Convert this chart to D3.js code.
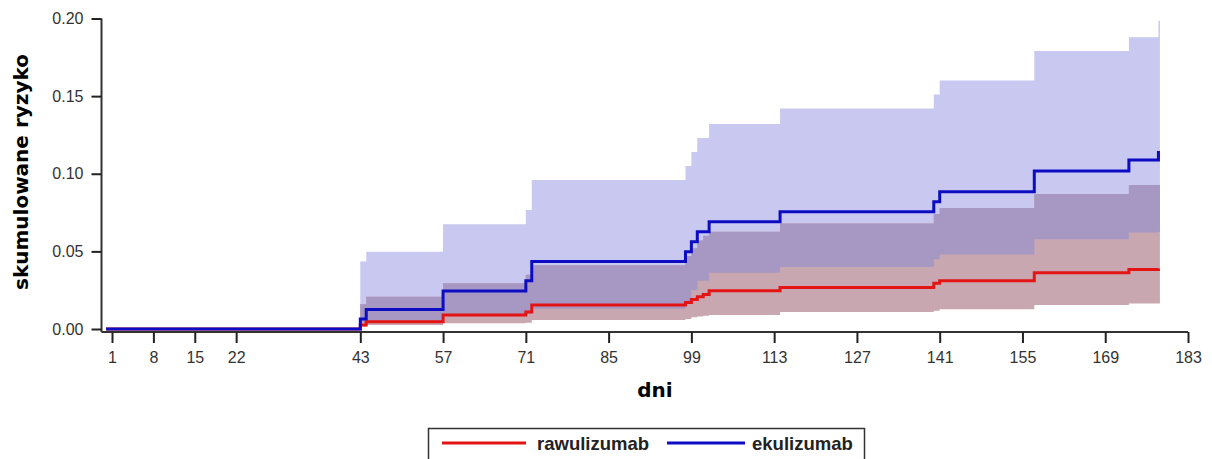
<!DOCTYPE html>
<html>
<head>
<meta charset="utf-8">
<script src="https://cdn.jsdelivr.net/npm/d3@7"></script>
<style>
  html, body { margin: 0; padding: 0; background: #fff; }
  svg { display: block; }
</style>
</head>
<body>
<svg id="chart" width="1212" height="459"></svg>
<script>
// ---- data ----
const days    = [0, 43, 44, 57, 71, 72, 98, 99, 100, 101, 102, 114, 140, 141, 157, 173, 178];
const ekul    = [0, 0.0064, 0.0125, 0.0245, 0.031, 0.0434, 0.0498, 0.0562, 0.0627, 0.0627, 0.0691, 0.0756, 0.082, 0.0884, 0.1018, 0.1089, 0.1147];
const ekulLo  = [0, 0.004, 0.005, 0.009, 0.010, 0.013, 0.018, 0.025, 0.031, 0.031, 0.0363, 0.040, 0.045, 0.048, 0.0578, 0.0622, 0.0627];
const ekulHi  = [0, 0.0434, 0.0498, 0.0674, 0.0766, 0.096, 0.105, 0.114, 0.123, 0.123, 0.132, 0.142, 0.151, 0.160, 0.179, 0.188, 0.1986];
const rawu    = [0, 0.0026, 0.0047, 0.009, 0.011, 0.0155, 0.017, 0.019, 0.0208, 0.0223, 0.0247, 0.0268, 0.0294, 0.031, 0.0363, 0.0384, 0.039];
const rawuLo  = [0, 0.0015, 0.0026, 0.0037, 0.004, 0.0058, 0.0065, 0.0075, 0.008, 0.0085, 0.009, 0.011, 0.0118, 0.0127, 0.0155, 0.0165, 0.0165];
const rawuHi  = [0, 0.016, 0.0208, 0.0294, 0.035, 0.041, 0.047, 0.052, 0.057, 0.060, 0.0627, 0.068, 0.074, 0.078, 0.087, 0.0928, 0.0928];
const followUpEnd = 178.25;
const xTicks = [1, 8, 15, 22, 43, 57, 71, 85, 99, 113, 127, 141, 155, 169, 183];
const yTicks = [0, 0.05, 0.10, 0.15, 0.20];
const seriesNames = ["rawulizumab", "ekulizumab"];
const seriesColors = ["#e41414", "#0c0cc4"];
const xTitle = "dni";
const yTitle = "skumulowane ryzyko";

// ---- layout ----
const svg = d3.select("#chart");
const x = d3.scaleLinear().domain([1, 183]).range([112, 1188]);
const y = d3.scaleLinear().domain([0, 0.2]).range([329, 18.5]);
const xAxisY = 332;
const yAxisX = 101.5;

// ---- rows ----
function rows(vals, lo, hi) {
  const r = days.map((d, i) => ({ t: d, v: vals[i], lo: lo[i], hi: hi[i] }));
  return r;
}
const ek = rows(ekul, ekulLo, ekulHi);
const rw = rows(rawu, rawuLo, rawuHi);
function bandRows(r) {
  const last = r[r.length - 1];
  return r.concat([{ t: followUpEnd, v: last.v, lo: last.lo, hi: last.hi }]);
}
const ekB = bandRows(ek), rwB = bandRows(rw);
const ovB = ekB.map((d, i) => ({ t: d.t, lo: Math.max(d.lo, rwB[i].lo), hi: Math.min(d.hi, rwB[i].hi) }));

const area = d3.area().curve(d3.curveStepAfter)
  .x(d => x(d.t)).y0(d => y(d.lo)).y1(d => y(d.hi));
const line = d3.line().curve(d3.curveStepAfter)
  .x(d => x(d.t)).y(d => y(d.v));

// bands
svg.append("path").datum(ekB).attr("d", area).attr("fill", "#c8c8f0");
svg.append("path").datum(rwB).attr("d", area).attr("fill", "#c9a7b1");
svg.append("path").datum(ovB.filter(d => d.hi >= d.lo)).attr("d", area).attr("fill", "#a698c2");

// axes
const xAxis = svg.append("g").attr("transform", `translate(0,${xAxisY})`)
  .call(d3.axisBottom(x).tickValues(xTicks).tickFormat(d3.format("d")).tickSize(11).tickSizeOuter(0).tickPadding(9));
xAxis.select(".domain").attr("d", `M${yAxisX},0H${x(183)}`);
const yAxis = svg.append("g").attr("transform", `translate(${yAxisX},0)`)
  .call(d3.axisLeft(y).tickValues(yTicks).tickFormat(d3.format(".2f")).tickSize(10).tickSizeOuter(0).tickPadding(8));
yAxis.select(".domain").attr("d", `M0,${y(0.2)}V${xAxisY}`);
svg.selectAll(".tick line").attr("stroke", "#222").attr("stroke-width", 2);
svg.selectAll(".domain").attr("stroke", "#333").attr("stroke-width", 2);
svg.selectAll(".tick text").attr("font-family", "Liberation Sans, Arial, sans-serif")
  .attr("font-size", 16).attr("fill", "#333");

// lines
svg.append("path").datum(rw).attr("d", line).attr("fill", "none")
  .attr("stroke", seriesColors[0]).attr("stroke-width", 3);
svg.append("path").datum(ek).attr("d", line).attr("fill", "none")
  .attr("stroke", seriesColors[1]).attr("stroke-width", 3);

// titles
svg.append("text").attr("x", 655).attr("y", 397).attr("text-anchor", "middle")
  .attr("font-family", "DejaVu Sans, Verdana, sans-serif").attr("font-weight", "bold")
  .attr("font-size", 20).attr("fill", "#000").text(xTitle);
svg.append("text").attr("transform", "translate(28,172) rotate(-90)").attr("text-anchor", "middle")
  .attr("font-family", "DejaVu Sans, Verdana, sans-serif").attr("font-weight", "bold")
  .attr("font-size", 20).attr("fill", "#000").text(yTitle);

// legend
const lg = svg.append("g");
lg.append("rect").attr("x", 428.5).attr("y", 428.5).attr("width", 436).attr("height", 45)
  .attr("fill", "#fff").attr("stroke", "#333").attr("stroke-width", 1.5);
const legItems = [
  { x1: 442, x2: 526, tx: 537 },
  { x1: 667, x2: 745, tx: 752 }
];
legItems.forEach((it, i) => {
  lg.append("line").attr("x1", it.x1).attr("x2", it.x2).attr("y1", 443).attr("y2", 443)
    .attr("stroke", seriesColors[i]).attr("stroke-width", 3);
  lg.append("text").attr("x", it.tx).attr("y", 449.5)
    .attr("font-family", "Liberation Sans, Arial, sans-serif").attr("font-weight", "bold")
    .attr("font-size", 18.5).attr("fill", "#222").text(seriesNames[i]);
});
</script>
</body>
</html>
